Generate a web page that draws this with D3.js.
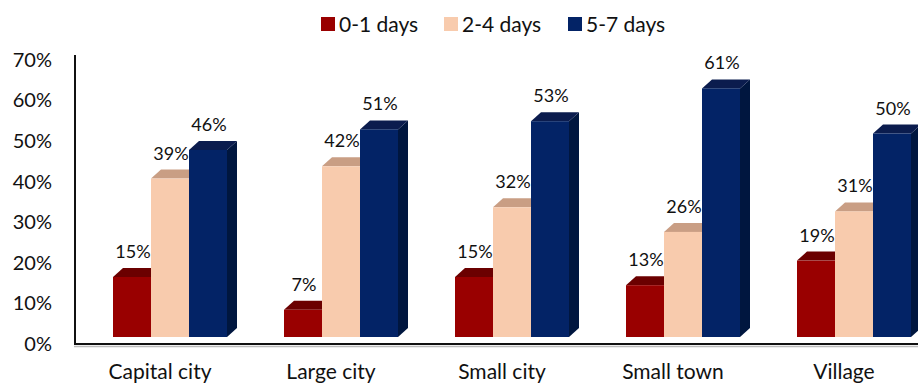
<!DOCTYPE html>
<html>
<head>
<meta charset="utf-8">
<script src="https://cdn.jsdelivr.net/npm/d3@7"></script>
<style>
    body { margin: 0; background: #fff; }
    text { font-family: Lato, "Open Sans", sans-serif; fill: #111; }
</style>
</head>
<body>
<div id="container"></div>
<script>
const categories = ["Capital city", "Large city", "Small city", "Small town", "Village"];
const seriesNames = ["0-1 days", "2-4 days", "5-7 days"];
const days01 = [15, 7, 15, 13, 19];
const days24 = [39, 42, 32, 26, 31];
const days57 = [46, 51, 53, 61, 50];
const yTicks = [0, 10, 20, 30, 40, 50, 60, 70];

// front / top / side colours per series
const colors = [
    { front: "#990000", top: "#6b0000", side: "#5a0000" },
    { front: "#f8cbad", top: "#c99e84", side: "#d9ab8f" },
    { front: "#032366", top: "#0b1c4e", side: "#00163f" }
];

const main = () => {
    const width = 918, height = 385;
    const dx = 10, dy = 9; // 3d depth

    const svg = d3.select("#container")
        .append("svg")
        .attr("width", width)
        .attr("height", height);

    const values = [days01, days24, days57];

    const xScale = d3.scaleBand().domain(categories).range([74.5, 74.5 + 171 * categories.length]);
    const groupW = 114;
    const xSub = d3.scaleBand().domain(seriesNames).range([0, groupW]);
    const groupOffset = (xScale.bandwidth() - groupW) / 2 + 10;

    const yAxisScale = d3.scaleLinear().domain([0, 70]).range([344, 60]);
    const yBar = d3.scaleLinear().domain([0, 70]).range([338.5, 51.5]);

    // y axis labels
    const yAxis = d3.axisLeft(yAxisScale)
        .tickValues(yTicks)
        .tickFormat(d => d + "%")
        .tickSize(0)
        .tickPadding(23);
    const yAxisGroup = svg.append("g")
        .attr("transform", "translate(75,0)")
        .call(yAxis);
    yAxisGroup.select(".domain").remove();
    yAxisGroup.selectAll("text")
        .style("font-size", "20px")
        .style("font-family", "Lato, sans-serif")
        .attr("fill", "#111");

    // axis lines
    svg.append("line")
        .attr("x1", 75).attr("x2", 75)
        .attr("y1", 55).attr("y2", 345)
        .attr("stroke", "#111").attr("stroke-width", 2);
    svg.append("line")
        .attr("x1", 74).attr("x2", width)
        .attr("y1", 346.5).attr("y2", 346.5)
        .attr("stroke", "#bbb").attr("stroke-width", 1.5);
    svg.append("line")
        .attr("x1", 74).attr("x2", width)
        .attr("y1", 344).attr("y2", 344)
        .attr("stroke", "#111").attr("stroke-width", 2);

    // bars
    const bars = svg.append("g");
    categories.forEach((cat, i) => {
        seriesNames.forEach((s, j) => {
            const v = values[j][i];
            const x = xScale(cat) + groupOffset + xSub(s);
            const w = xSub.bandwidth();
            const top = yBar(v);
            const base = yBar(0) - 1.5;
            const c = colors[j];

            bars.append("polygon")
                .attr("points", [[x + w, top], [x + w + dx, top - dy], [x + w + dx, base - dy], [x + w, base]].join(" "))
                .attr("fill", c.side);
            bars.append("polygon")
                .attr("points", [[x, top], [x + dx, top - dy], [x + w + dx, top - dy], [x + w, top]].join(" "))
                .attr("fill", c.top);
            bars.append("rect")
                .attr("x", x)
                .attr("y", top)
                .attr("width", w)
                .attr("height", base - top)
                .attr("fill", c.front);

            bars.append("text")
                .attr("x", x + w / 2 + 1)
                .attr("y", top - dy - 10)
                .attr("text-anchor", "middle")
                .style("font-size", "18px")
                .text(v + "%");
        });
    });

    // category labels
    svg.selectAll(".cat").data(categories)
        .enter()
        .append("text")
        .attr("class", "cat")
        .attr("x", d => xScale(d) + xScale.bandwidth() / 2)
        .attr("y", 379)
        .attr("text-anchor", "middle")
        .style("font-size", "21px")
        .text(d => d);

    // legend
    const legendX = [321, 444, 568];
    const legend = svg.selectAll(".legend").data(seriesNames)
        .enter()
        .append("g")
        .attr("class", "legend")
        .attr("transform", (d, i) => "translate(" + legendX[i] + ",17)");
    legend.append("rect")
        .attr("width", 14)
        .attr("height", 14)
        .attr("fill", (d, i) => colors[i].front);
    legend.append("text")
        .attr("x", 18)
        .attr("y", 14.5)
        .style("font-size", "21px")
        .text(d => d);
};

main();
</script>
</body>
</html>
